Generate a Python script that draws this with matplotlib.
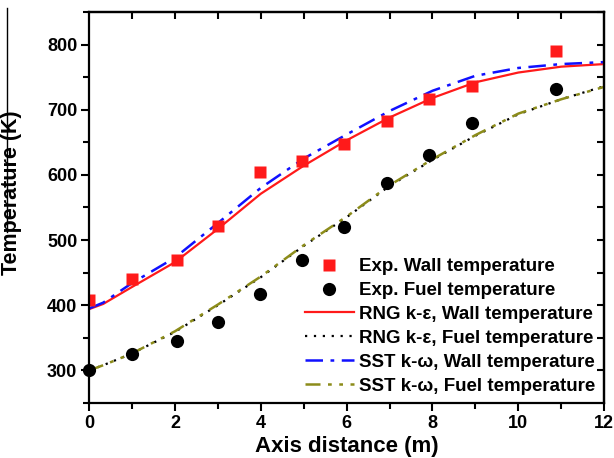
import numpy as np
import matplotlib
matplotlib.use('Agg')
from matplotlib import pyplot as plt
from matplotlib.lines import Line2D
from matplotlib.ticker import MultipleLocator

plt.rcParams['font.family'] = ['Liberation Sans', 'DejaVu Sans']
plt.rcParams['font.weight'] = 'bold'

# experimental points
exp_x = [0, 1, 2.05, 3, 3.98, 4.95, 5.95, 6.95, 7.92, 8.92, 10.88]
exp_wall = [408, 440, 470, 522, 605, 622, 648, 683, 716, 736, 790]
fuel_x = [0, 1, 2.05, 3, 3.98, 4.95, 5.95, 6.95, 7.92, 8.92, 10.88]
exp_fuel = [300, 325, 345, 374, 418, 470, 520, 588, 630, 680, 732]

# simulation curves
sim_x = [0, 0.33, 1, 2, 3, 4, 5, 6, 7, 8, 9, 10, 11, 12]
rng_wall = [394, 402, 428, 466, 517, 571, 614, 653, 688, 718, 742, 757, 766, 770]
sst_wall = [395, 404, 434, 473, 526, 580, 625, 662, 698, 729, 752, 764, 770, 773]
rng_fuel = [300, 308, 326, 359, 400, 443, 491, 535, 583, 623, 660, 693, 716, 736]
sst_fuel = [300, 308, 326, 360, 401, 444, 492, 536, 584, 624, 661, 694, 716, 735]

fig = plt.figure(figsize=(6.14, 4.58), dpi=100)
ax = fig.add_axes([0.145, 0.120, 0.839, 0.854])

ax.plot(sim_x, rng_wall, color='#ff1a1a', lw=1.6, label='RNG k-\u03b5, Wall temperature')
ax.plot(sim_x, rng_fuel, color='black', lw=1.6, ls=(0, (1, 3)), label='RNG k-\u03b5, Fuel temperature')
ax.plot(sim_x, sst_wall, color='#1010ff', lw=1.8, ls=(0, (7, 3, 1.5, 3)), label='SST k-\u03c9, Wall temperature')
ax.plot(sim_x, sst_fuel, color='#8c8c1a', lw=1.8, ls=(0, (6, 3, 1.5, 3, 1.5, 3)), label='SST k-\u03c9, Fuel temperature')

ax.plot(exp_x, exp_wall, 's', color='#ff1a1a', ms=8.5, mec='none', label='Exp. Wall temperature')
ax.plot(fuel_x, exp_fuel, 'o', color='black', ms=9.5, mec='none', label='Exp. Fuel temperature', clip_on=False)

ax.set_xlim(0, 12)
ax.set_ylim(250, 850)
ax.xaxis.set_major_locator(MultipleLocator(2))
ax.xaxis.set_minor_locator(MultipleLocator(1))
ax.yaxis.set_minor_locator(MultipleLocator(50))
ax.set_yticks([300, 400, 500, 600, 700, 800])
ax.tick_params(which='major', direction='out', length=6, width=1.5, labelsize=13, pad=2.5)
ax.tick_params(which='minor', direction='out', length=4, width=1.5)
for sp in ax.spines.values():
    sp.set_linewidth(1.6)

top = ax.secondary_xaxis('top')
top.set_xticks(np.arange(1, 12))
top.tick_params(direction='in', length=5, width=1.5, labeltop=False)
top.spines['top'].set_linewidth(1.6)
right = ax.secondary_yaxis('right')
right.set_yticks(np.arange(300, 851, 50))
right.tick_params(direction='in', length=5, width=1.5, labelright=False)
right.spines['right'].set_linewidth(1.6)

ax.set_xlabel('Axis distance (m)', fontsize=16, fontweight='bold')
ax.xaxis.set_label_coords(0.5, -0.085)
ax.set_ylabel('Temperature (K)', fontsize=15.5, fontweight='bold')
ax.yaxis.set_label_coords(-0.130, 0.537)

handles, labels = ax.get_legend_handles_labels()
order = [4, 5, 0, 1, 2, 3]
ax.legend([handles[i] for i in order], [labels[i] for i in order], loc='lower right',
          bbox_to_anchor=(1.0, 0.0), frameon=False, fontsize=13.5, handlelength=2.6,
          handletextpad=0.3, labelspacing=0.36, borderaxespad=0.05)

fig.add_artist(Line2D([7/614, 7/614], [1 - 8/458, 1 - 232/458], color='black', lw=1.0))

fig.savefig('out.png', dpi=100)
